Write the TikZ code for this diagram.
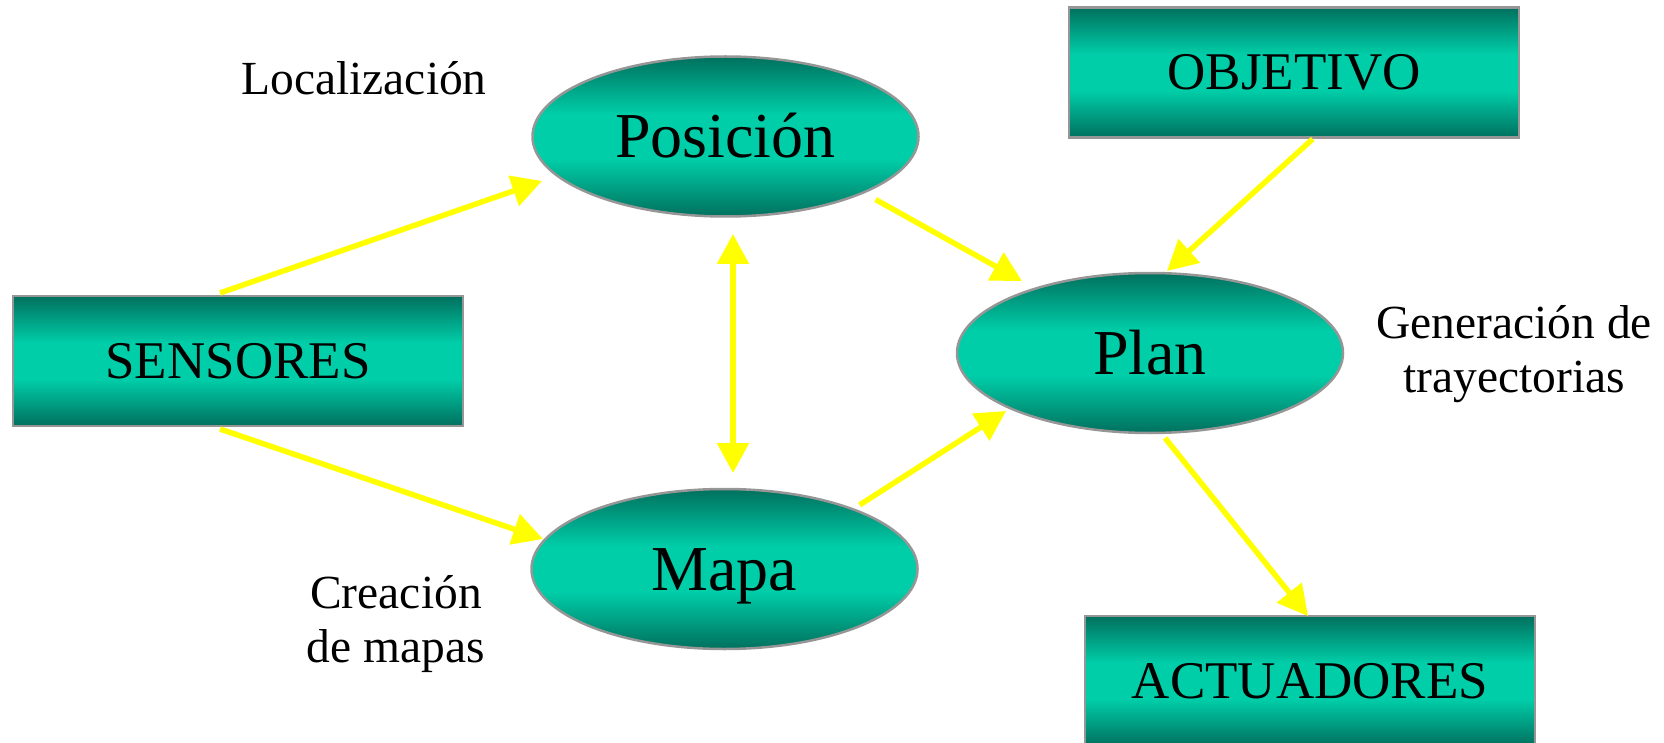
\documentclass[tikz,border=0pt]{standalone}
\usepackage{fontspec}
\setmainfont{Liberation Serif}
\usetikzlibrary{shapes.geometric,arrows.meta}

\definecolor{tealdark}{RGB}{0,112,94}
\definecolor{teallight}{RGB}{0,206,168}
\definecolor{rimgray}{RGB}{150,150,150}
\definecolor{flowyellow}{RGB}{255,255,0}

% dark rim at top and bottom, bright band through the middle
\pgfdeclareverticalshading{tealband}{100bp}{%
  color(0bp)=(tealdark); color(25bp)=(tealdark);
  color(43bp)=(teallight); color(57bp)=(teallight);
  color(75bp)=(tealdark); color(100bp)=(tealdark)}

\tikzset{
  panel/.style={shade, shading=tealband, draw=rimgray, line width=2.5pt,
    inner sep=0pt, text depth=0pt},
  box/.style={panel, rectangle, minimum width=450pt, minimum height=130pt,
    text height=35pt, font=\fontsize{53}{60}\selectfont},
  oval/.style={panel, ellipse, minimum width=386pt, minimum height=160pt,
    text height=42pt, font=\fontsize{64}{72}\selectfont},
  flow/.style={draw=flowyellow, line width=5.5pt,
    -{Triangle[length=30pt,width=31pt]}},
  twoway/.style={flow, {Triangle[length=30pt,width=31pt]}-{Triangle[length=30pt,width=31pt]}},
  note/.style={font=\fontsize{47.5}{54}\selectfont, align=center, inner sep=0pt}
}

\begin{document}
\begin{tikzpicture}[x=1pt,y=-1pt]
  \useasboundingbox (0,0) rectangle (1664,743);
  \clip (0,0) rectangle (1664,743);

  % blocks
  \node[box]  (sens) at (238,361)    {SENSORES};
  \node[box]  (obj)  at (1294,72.5)  {OBJETIVO};
  \node[box]  (act)  at (1310,681)   {ACTUADORES};
  \node[oval] (pos)  at (725.5,136.5) {Posición};
  \node[oval] (plan) at (1150,353)   {Plan};
  \node[oval] (mapa) at (724.5,569)  {Mapa};

  % side captions
  \node[note, anchor=base] (loc) at (364,95) {Localización};
  \node[note] (gen) at (1514,354.5) {Generación de\\trayectorias};
  \node[note] (cre) at (396,624.5) {Creación\\de mapas};

  % connector ends
  \coordinate (sensUp)   at (220,293);
  \coordinate (posIn)    at (542,181);
  \coordinate (sensDown) at (220,429);
  \coordinate (mapaIn)   at (543,539);
  \coordinate (posOut)   at (875.5,199.5);
  \coordinate (planInA)  at (1022,281);
  \coordinate (mapaOut)  at (859.6,505);
  \coordinate (planInB)  at (1006,411);
  \coordinate (objOut)   at (1312.7,139);
  \coordinate (planInC)  at (1167,271);
  \coordinate (planOut)  at (1165,438);
  \coordinate (actIn)    at (1308,616);
  \coordinate (posLow)   at (733,234);
  \coordinate (mapaHigh) at (733,473);

  % connectors
  \draw[flow]   (sensUp)   -- (posIn);
  \draw[flow]   (sensDown) -- (mapaIn);
  \draw[flow]   (posOut)   -- (planInA);
  \draw[flow]   (mapaOut)  -- (planInB);
  \draw[flow]   (objOut)   -- (planInC);
  \draw[flow]   (planOut)  -- (actIn);
  \draw[twoway] (posLow)   -- (mapaHigh);
\end{tikzpicture}
\end{document}
